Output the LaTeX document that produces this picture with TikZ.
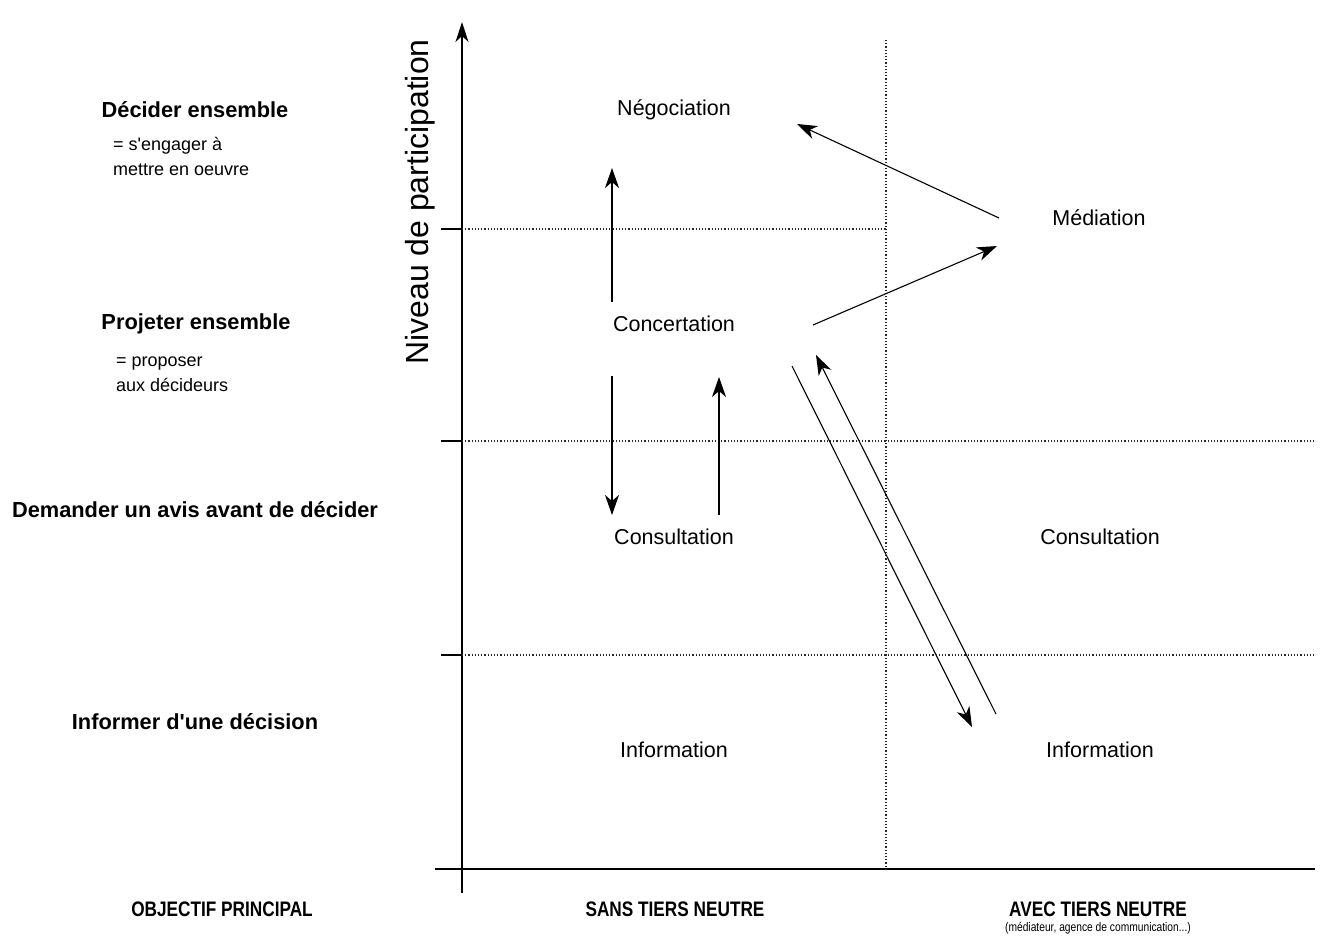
\documentclass[tikz,border=0pt]{standalone}
\usepackage{fontspec}
\setmainfont{Liberation Sans}
\newfontfamily\condfont[FakeStretch=0.82]{Liberation Sans}
\usepackage{xcolor}
\usepackage{tikz}
\usetikzlibrary{positioning,arrows.meta}

\begin{document}
\begin{tikzpicture}[x=1pt,y=-1pt,
  lvl/.style={inner sep=0pt,font=\fontsize{21.5}{24}\selectfont},
  goal/.style={inner sep=0pt,font=\fontsize{21.8}{24}\selectfont\bfseries},
  note/.style={inner sep=0pt,anchor=west,align=left,font=\fontsize{18}{25}\selectfont},
  col/.style={inner sep=0pt,font=\fontsize{21}{23}\selectfont\condfont\bfseries},
  grid/.style={dotted,line width=1.2pt,black!85},
  axis/.style={line width=1.3pt},
  move/.style={line width=1.1pt,-{Stealth[length=20pt,width=14pt,inset=6pt]}}]
  \useasboundingbox (0,0) rectangle (1330,940);

  % axes
  \draw[axis,-{Stealth[length=20pt,width=13pt,inset=6pt]}] (462,893) -- (462,22);
  \draw[axis] (435,869) -- (1315,869);
  \foreach \y in {229,441,655}
    \draw[axis] (441,\y) -- (462,\y);
  \node[rotate=90,inner sep=0pt,font=\fontsize{32}{36}\selectfont] (ylab) at (420,202) {Niveau de participation};

  % grid
  \draw[grid] (462,229) -- (886,229);
  \draw[grid] (462,441) -- (1315,441);
  \draw[grid] (462,655) -- (1315,655);
  \draw[grid] (886,40) -- (886,869);

  % levels
  \node[lvl] (nego) at (674,110) {Négociation};
  \node[lvl] (conc) at (674,324) {Concertation};
  \node[lvl] (cons) at (674,537) {Consultation};
  \node[lvl] (info) at (674,750) {Information};
  \node[lvl] (medi) at (1099,218) {Médiation};
  \node[lvl] (consb) at (1100,537) {Consultation};
  \node[lvl] (infob) at (1100,750) {Information};

  % objectives
  \node[goal] (decider) at (195,110) {Décider ensemble};
  \node[note] (decnote) at (113,156) {= s\textquotesingle engager à\\mettre en oeuvre};
  \node[goal] (projeter) at (196,324) {Projeter ensemble};
  \node[note] (projnote) at (116,374) {= proposer\\aux décideurs};
  \node[goal] (demander) at (195,510) {Demander un avis avant de décider};
  \node[goal] (informer) at (195,722) {Informer d\textquotesingle une décision};

  % columns
  \node[col] (objectif) at (222,909) {OBJECTIF PRINCIPAL};
  \node[col] (sans) at (675,909) {SANS TIERS NEUTRE};
  \node[col] (avec) at (1098,909) {AVEC TIERS NEUTRE};
  \node[inner sep=0pt,font=\fontsize{12.5}{14}\selectfont\condfont,below=5pt of avec] (avecnote) {(médiateur, agence de communication...)};

  % arrows
  \coordinate (c1) at (612,302);
  \coordinate (n1) at (612,168);
  \coordinate (c2) at (612,376);
  \coordinate (s1) at (612,515);
  \coordinate (s2) at (719,515);
  \coordinate (c3) at (719,377);
  \coordinate (c4) at (813,325);
  \coordinate (m1) at (997,246);
  \coordinate (m2) at (999,218);
  \coordinate (n2) at (797,124);
  \coordinate (c5) at (792,366);
  \coordinate (i1) at (972,727);
  \coordinate (i2) at (996,714);
  \coordinate (c6) at (816,355);
  \draw[move] (c1) -- (n1);
  \draw[move] (c2) -- (s1);
  \draw[move] (s2) -- (c3);
  \draw[move] (c4) -- (m1);
  \draw[move] (m2) -- (n2);
  \draw[move] (c5) -- (i1);
  \draw[move] (i2) -- (c6);
\end{tikzpicture}
\end{document}
